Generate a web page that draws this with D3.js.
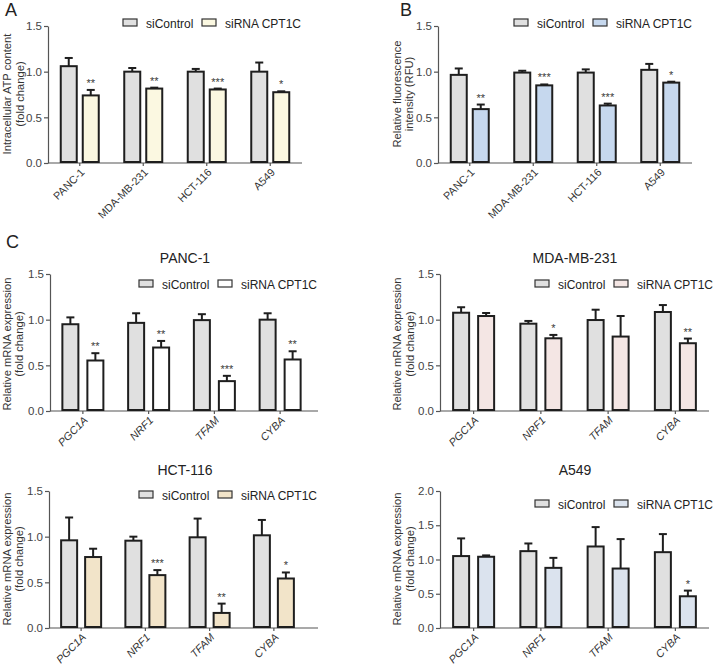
<!DOCTYPE html>
<html><head><meta charset="utf-8">
<script src="https://cdn.jsdelivr.net/npm/d3@7"></script>
<style>body{margin:0;background:#fff}svg{display:block}</style>
</head><body><svg id="c" width="715" height="665"></svg>
<script>
// ---------- DATA ----------
const cellLines = ["PANC-1", "MDA-MB-231", "HCT-116", "A549"];
const genes = ["PGC1A", "NRF1", "TFAM", "CYBA"];
const seriesNames = ["siControl", "siRNA CPT1C"];

// Panel A: intracellular ATP content
const atpCtrl = [1.06, 1.00, 1.00, 1.00];
const atpCtrlErr = [0.09, 0.04, 0.03, 0.10];
const atpSi = [0.74, 0.815, 0.805, 0.775];
const atpSiErr = [0.06, 0.01, 0.01, 0.01];
const atpStars = ["**", "**", "***", "*"];

// Panel B: relative fluorescence intensity
const rfuCtrl = [0.965, 0.99, 0.99, 1.02];
const rfuCtrlErr = [0.07, 0.02, 0.035, 0.065];
const rfuSi = [0.59, 0.85, 0.63, 0.88];
const rfuSiErr = [0.05, 0.01, 0.02, 0.01];
const rfuStars = ["**", "***", "***", "*"];

// Panel C: mRNA expression
const pancCtrl = [0.95, 0.965, 0.995, 1.00];
const pancCtrlErr = [0.075, 0.105, 0.065, 0.07];
const pancSi = [0.553, 0.695, 0.327, 0.564];
const pancSiErr = [0.08, 0.072, 0.058, 0.09];
const pancStars = ["**", "**", "***", "**"];

const mdaCtrl = [1.076, 0.956, 0.996, 1.084];
const mdaCtrlErr = [0.06, 0.03, 0.113, 0.076];
const mdaSi = [1.04, 0.796, 0.815, 0.742];
const mdaSiErr = [0.033, 0.037, 0.225, 0.051];
const mdaStars = ["", "*", "", "**"];

const hctCtrl = [0.96, 0.956, 0.993, 1.015];
const hctCtrlErr = [0.25, 0.044, 0.205, 0.168];
const hctSi = [0.777, 0.579, 0.165, 0.542];
const hctSiErr = [0.091, 0.055, 0.102, 0.066];
const hctStars = ["", "***", "**", "*"];

const a549Ctrl = [1.05, 1.122, 1.19, 1.107];
const a549CtrlErr = [0.258, 0.112, 0.283, 0.264];
const a549Si = [1.04, 0.878, 0.868, 0.463];
const a549SiErr = [0.02, 0.146, 0.43, 0.083];
const a549Stars = ["", "", "", "*"];

const ticks15 = [0, 0.5, 1.0, 1.5];
const ticks20 = [0, 0.5, 1.0, 1.5, 2.0];

// ---------- DRAW ----------
const FF = "'Liberation Sans', Arial, Helvetica, sans-serif";
const svg = d3.select("#c");
svg.append("rect").attr("width", 715).attr("height", 665).attr("fill", "#fff");

const CTRL_FILL = "#e0e0e0";
const STROKE = "#1e1e1e";
const AXIS = "#555";

function panel(cfg) {
  const g = svg.append("g");
  const y = d3.scaleLinear().domain([0, cfg.max]).range([cfg.yBot, cfg.yTop]);
  const x = d3.scaleBand().domain(cfg.cats).range([cfg.x0, cfg.x1]);
  const half = x.bandwidth() / 2;

  // y axis
  const ya = g.append("g").attr("transform", `translate(${cfg.x0},0)`)
    .call(d3.axisLeft(y).tickValues(cfg.ticks).tickFormat(d3.format(".1f")).tickSize(4).tickPadding(2).tickSizeOuter(0));
  ya.select(".domain").attr("stroke", AXIS).attr("stroke-width", 1.2);
  ya.selectAll(".tick line").attr("stroke", AXIS).attr("stroke-width", 1.2);
  ya.selectAll(".tick text").attr("fill", "#444").attr("font-family", FF).attr("font-size", 11.5);

  // x axis
  const xa = g.append("g").attr("transform", `translate(0,${cfg.yBot})`)
    .call(d3.axisBottom(x).tickSize(3).tickSizeOuter(0).tickFormat(""));
  xa.select(".domain").remove();
  xa.selectAll(".tick line").attr("stroke", AXIS).attr("stroke-width", 1.2);
  g.append("line").attr("x1", cfg.x0).attr("x2", cfg.xEnd).attr("y1", cfg.yBot).attr("y2", cfg.yBot)
    .attr("stroke", AXIS).attr("stroke-width", 1.2);

  // x labels rotated
  g.selectAll("text.xl").data(cfg.cats).join("text")
    .attr("transform", d => `translate(${x(d) + half + 5.5},${cfg.yBot + 10}) rotate(-45)`)
    .attr("text-anchor", "end").attr("font-family", FF).attr("font-size", 10.8)
    .attr("fill", "#333").attr("font-style", cfg.italic ? "italic" : "normal")
    .text(d => d);

  const bw = 16, gap = cfg.gap;
  const series = [
    {vals: cfg.ctrl, err: cfg.ctrlErr, fill: CTRL_FILL, off: -gap / 2 - bw},
    {vals: cfg.si, err: cfg.siErr, fill: cfg.siFill, off: gap / 2}
  ];
  series.forEach(s => {
    cfg.cats.forEach((c, i) => {
      const bx = x(c) + half + s.off;
      const mid = bx + bw / 2;
      const yt = y(s.vals[i]);
      const ye = y(s.vals[i] + s.err[i]);
      g.append("line").attr("x1", mid).attr("x2", mid).attr("y1", yt).attr("y2", ye)
        .attr("stroke", STROKE).attr("stroke-width", 2);
      g.append("line").attr("x1", mid - 4).attr("x2", mid + 4).attr("y1", ye).attr("y2", ye)
        .attr("stroke", STROKE).attr("stroke-width", 2);
      g.append("rect").attr("x", bx).attr("y", yt).attr("width", bw).attr("height", y(0) - yt - 1)
        .attr("fill", s.fill).attr("stroke", STROKE).attr("stroke-width", 2);
    });
  });
  // stars
  cfg.cats.forEach((c, i) => {
    if (!cfg.stars[i]) return;
    const mid = x(c) + half + gap / 2 + bw / 2;
    g.append("text").attr("x", mid).attr("y", y(cfg.si[i] + cfg.siErr[i]) - 3)
      .attr("text-anchor", "middle").attr("font-family", FF).attr("font-size", 11)
      .attr("fill", "#3a3a3a").text(cfg.stars[i]);
  });

  // legend
  const L = cfg.legend;
  [[L.x, CTRL_FILL, seriesNames[0]], [L.x + 79, cfg.siFill, seriesNames[1]]].forEach(([lx, f, t]) => {
    g.append("rect").attr("x", lx).attr("y", L.y - 4).attr("width", 14).attr("height", 7)
      .attr("fill", f).attr("stroke", "#333").attr("stroke-width", 1.2);
    g.append("text").attr("x", lx + 23).attr("y", L.y + 4.5).attr("font-family", FF)
      .attr("font-size", 12).attr("fill", "#222").text(t);
  });

  // y label
  const yl = g.append("text").attr("transform", `translate(${cfg.ylx},${cfg.ylc}) rotate(-90)`)
    .attr("text-anchor", "middle").attr("font-family", FF).attr("font-size", 11.2).attr("fill", "#333");
  yl.append("tspan").attr("x", 0).attr("y", 0).text(cfg.ylabel[0]);
  yl.append("tspan").attr("x", 0).attr("y", 12.5).text(cfg.ylabel[1]);

  if (cfg.title) {
    g.append("text").attr("x", cfg.title.x).attr("y", cfg.title.y).attr("text-anchor", "middle")
      .attr("font-family", FF).attr("font-size", 14).attr("fill", "#222").text(cfg.title.t);
  }
}

panel({cats: cellLines, max: 1.5, ticks: ticks15, x0: 48, x1: 302, xEnd: 302, yTop: 26, yBot: 163, gap: 6,
  ctrl: atpCtrl, ctrlErr: atpCtrlErr, si: atpSi, siErr: atpSiErr, stars: atpStars, siFill: "#fbf8e1",
  legend: {x: 123, y: 23}, ylx: 11, ylc: 94, ylabel: ["Intracellular ATP content", "(fold change)"]});

panel({cats: cellLines, max: 1.5, ticks: ticks15, x0: 438, x1: 692, xEnd: 692, yTop: 26, yBot: 163, gap: 6,
  ctrl: rfuCtrl, ctrlErr: rfuCtrlErr, si: rfuSi, siErr: rfuSiErr, stars: rfuStars, siFill: "#c6d8ee",
  legend: {x: 514, y: 23}, ylx: 400.5, ylc: 94, ylabel: ["Relative fluorescence", "intensity (RFU)"]});

panel({cats: genes, italic: true, max: 1.5, ticks: ticks15, x0: 50, x1: 313, xEnd: 318, yTop: 274, yBot: 411, gap: 9,
  ctrl: pancCtrl, ctrlErr: pancCtrlErr, si: pancSi, siErr: pancSiErr, stars: pancStars, siFill: "#ffffff",
  legend: {x: 139, y: 284}, ylx: 10.5, ylc: 344, ylabel: ["Relative mRNA expression", "(fold change)"],
  title: {x: 185, y: 263, t: "PANC-1"}});

panel({cats: genes, italic: true, max: 1.5, ticks: ticks15, x0: 440, x1: 709, xEnd: 709, yTop: 274, yBot: 411, gap: 9,
  ctrl: mdaCtrl, ctrlErr: mdaCtrlErr, si: mdaSi, siErr: mdaSiErr, stars: mdaStars, siFill: "#f4e6e4",
  legend: {x: 535, y: 284}, ylx: 401, ylc: 344, ylabel: ["Relative mRNA expression", "(fold change)"],
  title: {x: 575, y: 263, t: "MDA-MB-231"}});

panel({cats: genes, italic: true, max: 1.5, ticks: ticks15, x0: 49, x1: 306, xEnd: 318, yTop: 491, yBot: 628, gap: 8,
  ctrl: hctCtrl, ctrlErr: hctCtrlErr, si: hctSi, siErr: hctSiErr, stars: hctStars, siFill: "#f2e4c9",
  legend: {x: 139, y: 495}, ylx: 10.5, ylc: 559, ylabel: ["Relative mRNA expression", "(fold change)"],
  title: {x: 185, y: 475, t: "HCT-116"}});

panel({cats: genes, italic: true, max: 2.0, ticks: ticks20, x0: 440, x1: 709, xEnd: 709, yTop: 491, yBot: 628, gap: 9,
  ctrl: a549Ctrl, ctrlErr: a549CtrlErr, si: a549Si, siErr: a549SiErr, stars: a549Stars, siFill: "#dbe3ee",
  legend: {x: 535, y: 504}, ylx: 401, ylc: 559, ylabel: ["Relative mRNA expression", "(fold change)"],
  title: {x: 575, y: 475, t: "A549"}});

// panel letters
[["A", 5, 16], ["B", 400, 16], ["C", 6, 248]].forEach(([t, x, y]) => {
  svg.append("text").attr("x", x).attr("y", y).attr("font-family", FF).attr("font-size", 18)
    .attr("fill", "#222").text(t);
});
</script></body></html>
